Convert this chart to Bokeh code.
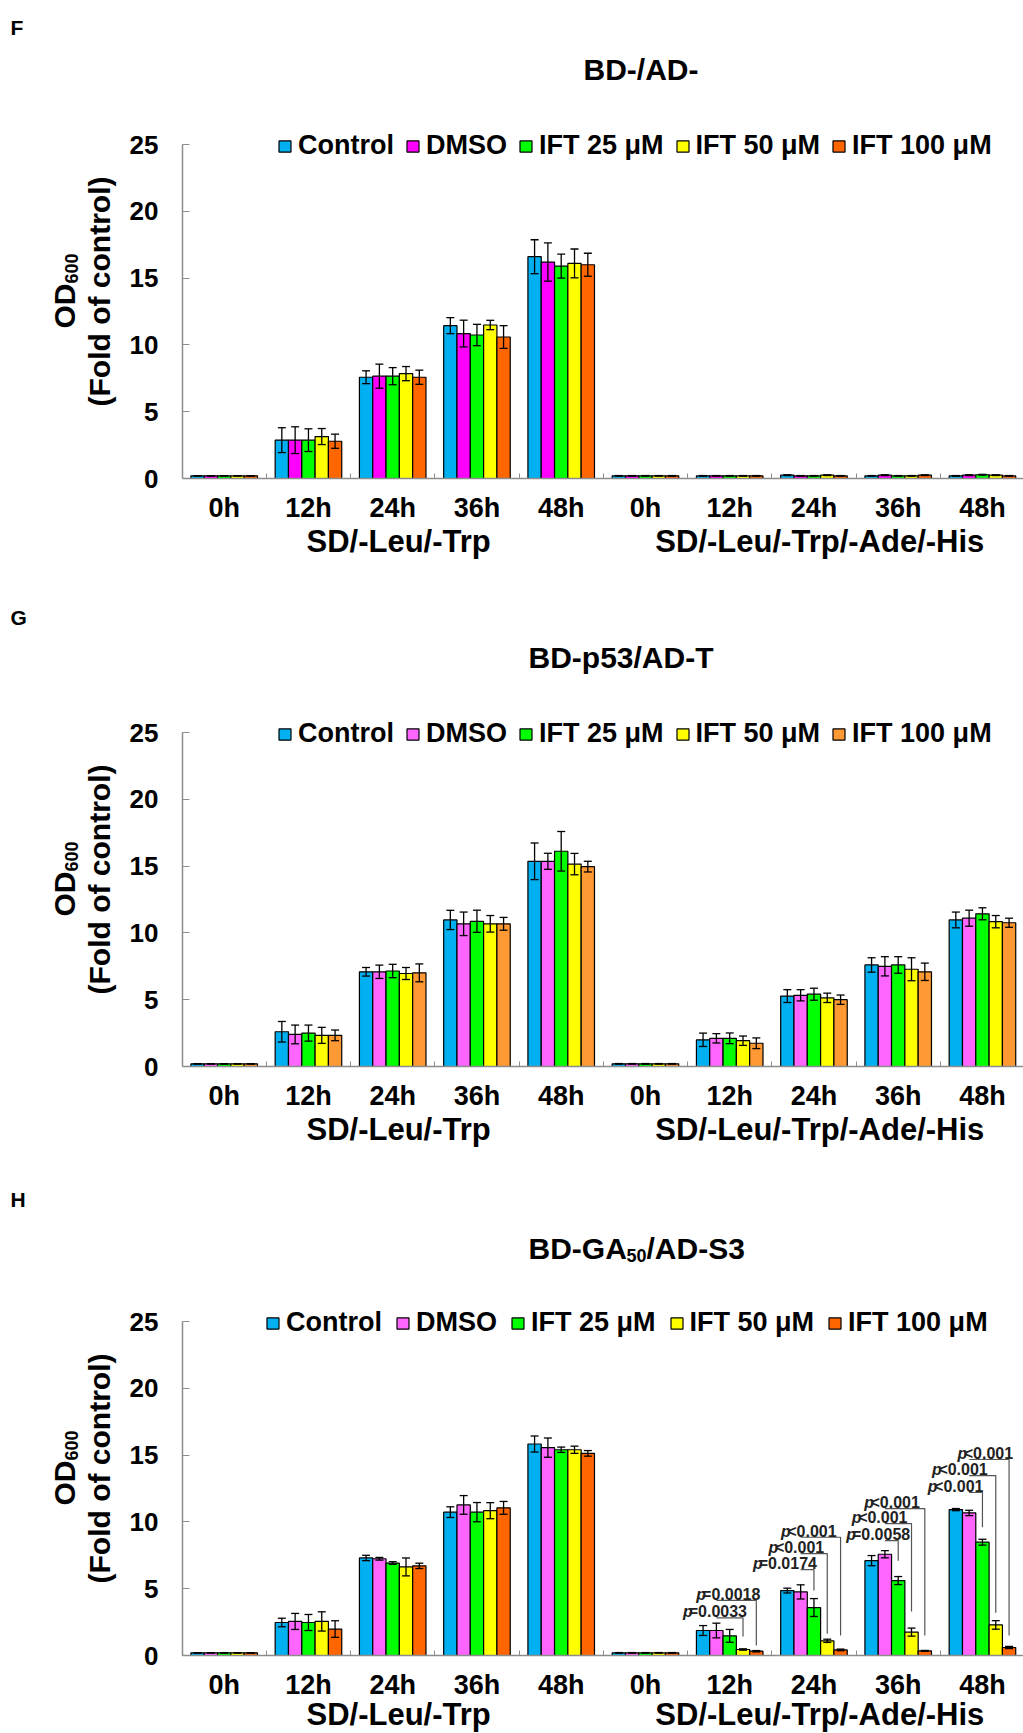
import numpy as np
from bokeh.plotting import figure
from bokeh.models import (ColumnDataSource, FixedTicker, Label, Legend, LegendItem,
                          Range1d, Whisker, TeeHead)
from bokeh.layouts import column
from bokeh.embed import file_html
from bokeh.resources import INLINE
from bokeh.core.properties import value

# ---------------- data ----------------
time_labels = ["0h", "12h", "24h", "36h", "48h", "0h", "12h", "24h", "36h", "48h"]
media_labels = ["SD/-Leu/-Trp", "SD/-Leu/-Trp/-Ade/-His"]
series_names = ["Control", "DMSO", "IFT 25 μM", "IFT 50 μM", "IFT 100 μM"]

# Panel F : BD-/AD-
F_control = [0.2, 2.87, 7.58, 11.44, 16.6, 0.2, 0.2, 0.25, 0.2, 0.2]
F_dmso = [0.2, 2.87, 7.66, 10.85, 16.2, 0.2, 0.2, 0.2, 0.25, 0.25]
F_ift25 = [0.2, 2.87, 7.66, 10.74, 15.9, 0.2, 0.2, 0.2, 0.2, 0.28]
F_ift50 = [0.2, 3.14, 7.85, 11.49, 16.1, 0.2, 0.2, 0.25, 0.2, 0.25]
F_ift100 = [0.2, 2.79, 7.58, 10.59, 16.0, 0.2, 0.2, 0.2, 0.25, 0.2]
F_control_err = [0.02, 0.93, 0.48, 0.6, 1.27, 0.02, 0.02, 0.03, 0.02, 0.02]
F_dmso_err = [0.02, 1.0, 0.9, 1.0, 1.43, 0.02, 0.02, 0.02, 0.03, 0.03]
F_ift25_err = [0.02, 0.85, 0.64, 0.8, 0.9, 0.02, 0.02, 0.02, 0.02, 0.03]
F_ift50_err = [0.02, 0.6, 0.53, 0.35, 1.08, 0.02, 0.02, 0.03, 0.02, 0.03]
F_ift100_err = [0.02, 0.53, 0.53, 0.85, 0.86, 0.02, 0.02, 0.02, 0.03, 0.02]

# Panel G : BD-p53/AD-T
G_control = [0.2, 2.6, 7.09, 10.97, 15.36, 0.2, 2.0, 5.27, 7.6, 10.97]
G_dmso = [0.2, 2.4, 7.09, 10.68, 15.36, 0.2, 2.11, 5.33, 7.5, 11.1]
G_ift25 = [0.2, 2.5, 7.15, 10.87, 16.11, 0.2, 2.11, 5.41, 7.6, 11.43]
G_ift50 = [0.2, 2.33, 6.96, 10.68, 15.15, 0.2, 1.93, 5.14, 7.28, 10.84]
G_ift100 = [0.2, 2.33, 7.01, 10.68, 14.96, 0.2, 1.74, 5.0, 7.09, 10.76]
G_control_err = [0.02, 0.77, 0.32, 0.72, 1.37, 0.02, 0.5, 0.48, 0.54, 0.59]
G_dmso_err = [0.02, 0.7, 0.5, 0.88, 0.6, 0.02, 0.35, 0.42, 0.72, 0.6]
G_ift25_err = [0.02, 0.6, 0.5, 0.83, 1.48, 0.02, 0.4, 0.45, 0.62, 0.45]
G_ift50_err = [0.02, 0.6, 0.45, 0.62, 0.8, 0.02, 0.35, 0.35, 0.86, 0.46]
G_ift100_err = [0.02, 0.4, 0.67, 0.48, 0.4, 0.02, 0.4, 0.35, 0.65, 0.34]

# Panel H : BD-GA50/AD-S3
H_control = [0.2, 2.47, 7.3, 10.73, 15.83, 0.2, 1.87, 4.86, 7.1, 10.92]
H_dmso = [0.2, 2.55, 7.24, 11.27, 15.56, 0.2, 1.87, 4.76, 7.58, 10.67]
H_ift25 = [0.2, 2.47, 6.92, 10.73, 15.4, 0.2, 1.47, 3.59, 5.61, 8.48]
H_ift50 = [0.2, 2.55, 6.63, 10.84, 15.4, 0.2, 0.45, 1.1, 1.75, 2.29]
H_ift100 = [0.2, 1.98, 6.71, 11.05, 15.13, 0.2, 0.32, 0.42, 0.35, 0.6]
H_control_err = [0.02, 0.32, 0.2, 0.4, 0.6, 0.02, 0.37, 0.18, 0.38, 0.08]
H_dmso_err = [0.02, 0.6, 0.1, 0.7, 0.72, 0.02, 0.55, 0.53, 0.27, 0.2]
H_ift25_err = [0.02, 0.6, 0.1, 0.72, 0.2, 0.02, 0.48, 0.67, 0.3, 0.22]
H_ift50_err = [0.02, 0.72, 0.67, 0.6, 0.27, 0.02, 0.05, 0.12, 0.3, 0.32]
H_ift100_err = [0.02, 0.62, 0.2, 0.48, 0.21, 0.02, 0.05, 0.06, 0.03, 0.08]

# p-value brackets in panel H (DMSO vs treatment)
p_text = ["=0.0033", "=0.0018", "=0.0174", "<0.001", "<0.001",
          "=0.0058", "<0.001", "<0.001", "<0.001", "<0.001", "<0.001"]
p_category = [6, 6, 7, 7, 7, 8, 8, 8, 9, 9, 9]
p_target = [3, 4, 2, 3, 4, 2, 3, 4, 2, 3, 4]
p_bracket_y = [2.82, 4.12, 6.43, 7.62, 8.85, 8.6, 9.87, 11.0, 12.2, 13.47, 14.67]
p_line_end_y = [1.42, 0.75, 4.87, 1.63, 1.5, 7.1, 3.3, 1.5, 9.6, 3.2, 1.5]

# ---------------- layout / style constants ----------------
FONT = "Liberation Sans"
AXIS_GRAY = "#8c8c8c"
colors_F = ["#00B0F0", "#FF00FF", "#00FF00", "#FFFF00", "#FF6600"]
colors_G = ["#00B0F0", "#FF66FF", "#00FF00", "#FFFF00", "#FF9933"]
colors_H = ["#00B0F0", "#FF66FF", "#00FF00", "#FFFF00", "#FF6600"]
p_label_shift_px = [4, 4, 3, -3, -4, 12, -4, -5, 1, -8, 4]

FIG_W = 1023
C0 = 223.7        # pixel x of first category centre
SX = 84.25        # pixels per category
ZERO_Y = 478      # pixel y of value 0 inside each figure
SY = 334.0 / 25   # pixels per unit
W = 0.158         # single bar width (category units)


def dx(px):
    return (px - C0) / SX


def dy(py):
    return (ZERO_Y - py) / SY


def text_width(s, size):
    w = {"=": 0.584, "<": 0.584, ".": 0.278}
    return sum(w.get(ch, 0.556) for ch in s) * size


def lbl(p, x, y, text, size, **kw):
    opts = dict(text_font=FONT, text_font_style="bold", text_color="black",
                text_font_size=size)
    opts.update(kw)
    p.add_layout(Label(x=x, y=y, text=text, **opts))


def make_panel(letter, letter_base, title_pieces, title_px, title_base, means, errs, colors,
               height, legend_left, legend_spacing, media_base, pvals=False):
    p = figure(width=FIG_W, height=height,
               x_range=Range1d(dx(0), dx(FIG_W)), y_range=Range1d(dy(height), dy(0)),
               output_backend="svg", toolbar_location=None, min_border=0,
               min_border_left=0, min_border_right=0, min_border_top=0, min_border_bottom=0)
    p.outline_line_color = None
    p.xgrid.visible = False
    p.ygrid.visible = False

    # axes drawn at fixed locations inside the frame
    p.yaxis.fixed_location = dx(182)
    p.yaxis.bounds = (0, 25)
    p.yaxis.ticker = FixedTicker(ticks=[0, 5, 10, 15, 20, 25])
    p.yaxis.axis_line_color = AXIS_GRAY
    p.yaxis.axis_line_width = 1.5
    p.yaxis.major_tick_line_color = AXIS_GRAY
    p.yaxis.major_tick_in = 7
    p.yaxis.major_tick_out = 0
    p.yaxis.minor_tick_line_color = None
    p.yaxis.major_label_text_font = FONT
    p.yaxis.major_label_text_font_style = "bold"
    p.yaxis.major_label_text_font_size = "26px"
    p.yaxis.major_label_text_color = "black"
    p.yaxis.major_label_standoff = 24

    p.xaxis.fixed_location = 0
    p.xaxis.bounds = (dx(182), dx(FIG_W))
    p.xaxis.ticker = FixedTicker(ticks=list(range(10)), minor_ticks=[i + 0.5 for i in range(9)])
    p.xaxis.major_label_overrides = {i: lab for i, lab in enumerate(time_labels)}
    p.xaxis.axis_line_color = AXIS_GRAY
    p.xaxis.axis_line_width = 1.5
    p.xaxis.major_tick_line_color = None
    p.xaxis.major_tick_in = 0
    p.xaxis.major_tick_out = 0
    p.xaxis.minor_tick_line_color = AXIS_GRAY
    p.xaxis.minor_tick_in = 5
    p.xaxis.minor_tick_out = 0
    p.xaxis.major_label_text_font = FONT
    p.xaxis.major_label_text_font_style = "bold"
    p.xaxis.major_label_text_font_size = "27px"
    p.xaxis.major_label_text_color = "black"
    p.xaxis.major_label_standoff = 14

    cats = np.arange(10)
    items = []
    for j, name in enumerate(series_names):
        m = np.array(means[j], dtype=float)
        e = np.array(errs[j], dtype=float)
        src = ColumnDataSource(dict(x=cats + (j - 2) * W, top=m, upper=m + e, lower=m - e))
        r = p.vbar(x="x", top="top", width=W, source=src, fill_color=colors[j],
                   line_color="black", line_width=1.2)
        p.add_layout(Whisker(source=src, base="x", upper="upper", lower="lower",
                             line_color="black", line_width=1.3, level="overlay",
                             upper_head=TeeHead(size=8, line_color="black", line_width=1.3),
                             lower_head=TeeHead(size=8, line_color="black", line_width=1.3)))
        items.append(LegendItem(label=name, renderers=[r]))

    legend = Legend(items=items, orientation="horizontal", location=(legend_left, height - 161),
                    label_text_font=FONT, label_text_font_style="bold",
                    label_text_font_size="27px", label_text_color="black",
                    glyph_width=15, glyph_height=14,
                    label_standoff=6, spacing=legend_spacing, padding=0, margin=0,
                    border_line_color=None, background_fill_alpha=0)
    p.add_layout(legend)

    # panel letter
    lbl(p, dx(10), dy(letter_base), letter, "21px", text_baseline="alphabetic")
    # title pieces: (text, size, x_offset px, y_offset px)
    for txt, size, ox, oy in title_pieces:
        lbl(p, dx(title_px), dy(title_base), txt, size, x_offset=ox, y_offset=oy,
            text_align="left", text_baseline="alphabetic")
    # y title
    lbl(p, dx(64), dy(283), "OD", "30px", angle=np.pi / 2,
        text_align="right", text_baseline="middle")
    lbl(p, dx(71), dy(283), "600", "18px", angle=np.pi / 2,
        text_align="left", text_baseline="middle")
    lbl(p, dx(99), dy(291), "(Fold of control)", "30px", angle=np.pi / 2,
        text_align="center", text_baseline="middle")
    # medium group labels
    for g, lab in enumerate(media_labels):
        lbl(p, 2.07 + 5 * g, dy(media_base), lab, "31px",
            text_align="center", text_baseline="alphabetic")

    if pvals:
        xs, ys, tx, ty, toff, tshift = [], [], [], [], [], []
        for k in range(len(p_text)):
            c = p_category[k]
            x_d = c + (1 - 2) * W
            x_t = c + (p_target[k] - 2) * W
            h = p_bracket_y[k]
            xs.append([x_d, x_t, x_t])
            ys.append([h, h, p_line_end_y[k]])
            tx.append(x_t)
            ty.append(h + 0.45)
            tshift.append(p_label_shift_px[k])
            toff.append(p_label_shift_px[k] - 0.93 * text_width(p_text[k], 16))
        p.multi_line(xs=xs, ys=ys, line_color="#555555", line_width=1.2)
        tsrc = ColumnDataSource(dict(x=tx, y=ty, t=p_text, off=toff, sh=tshift,
                                     pp=["p"] * len(tx)))
        p.text(x="x", y="y", text="t", source=tsrc, text_align="right", text_baseline="alphabetic",
               text_font=value(FONT), text_font_style="bold", text_font_size="16px",
               text_color="#222222", x_offset="sh")
        p.text(x="x", y="y", text="pp", source=tsrc, text_align="right", text_baseline="alphabetic",
               text_font=value(FONT), text_font_style="bold italic", text_font_size="16px",
               text_color="#222222", x_offset="off")
    return p


F_means = [F_control, F_dmso, F_ift25, F_ift50, F_ift100]
F_errs = [F_control_err, F_dmso_err, F_ift25_err, F_ift50_err, F_ift100_err]
G_means = [G_control, G_dmso, G_ift25, G_ift50, G_ift100]
G_errs = [G_control_err, G_dmso_err, G_ift25_err, G_ift50_err, G_ift100_err]
H_means = [H_control, H_dmso, H_ift25, H_ift50, H_ift100]
H_errs = [H_control_err, H_dmso_err, H_ift25_err, H_ift50_err, H_ift100_err]

fF = make_panel("F", 27, [("BD-/AD-", "30px", -58, 0)], 641, 69,
                F_means, F_errs, colors_F, 588, 277, 11, 541)
fG = make_panel("G", 29, [("BD-p53/AD-T", "30px", -92, 0)], 620, 69,
                G_means, G_errs, colors_G, 589, 277, 11, 541)
fH = make_panel("H", 22, [("BD-GA", "30px", -108, 0), ("50", "18px", -10, -7),
                          ("/AD-S3", "30px", 10, 0)],
                636, 71, H_means, H_errs, colors_H, 556, 265, 13, 537, pvals=True)

layout = column(fF, fG, fH, spacing=0)
open("out.html", "w").write(file_html(layout, INLINE))
